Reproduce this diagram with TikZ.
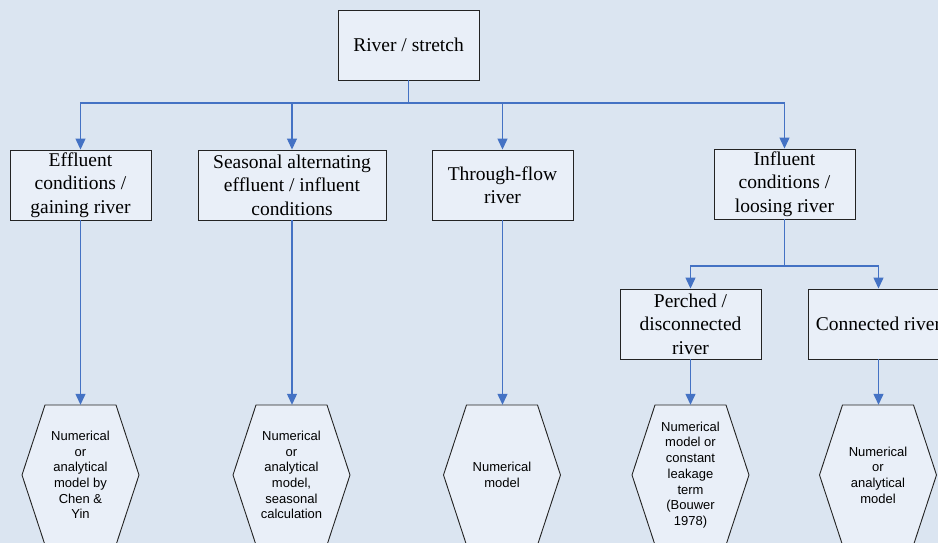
\documentclass[tikz,border=0pt]{standalone}
\usepackage{fontspec}
\setmainfont{Liberation Serif}
\newfontfamily\hexfontfam{Liberation Sans}
\usetikzlibrary{arrows.meta,calc}
\definecolor{bgcol}{RGB}{219,229,241}
\definecolor{boxfill}{RGB}{233,239,248}
\definecolor{linecol}{RGB}{68,114,196}
\definecolor{bordercol}{RGB}{35,35,35}
\newcommand\hexshape[2]{%
  \path[hexline] ({#1-#2+23},405) -- ({#1+#2-23},405) -- ({#1+#2},475) --
    ({#1+#2-23},545) -- ({#1-#2+23},545) -- ({#1-#2},475) -- cycle;}
\begin{document}
\begin{tikzpicture}[x=1pt,y=-1pt,
  boxnode/.style={draw=bordercol, fill=boxfill, line width=0.9pt, minimum width=141pt,
    minimum height=70pt, inner sep=0pt, align=center,
    font=\fontsize{19.5}{23.4}\selectfont},
  hexnode/.style={minimum width=117pt, minimum height=140pt, inner sep=0pt,
    align=center, font=\hexfontfam\fontsize{13}{15.7}\selectfont},
  hexline/.style={draw=bordercol, fill=boxfill, line width=0.9pt},
  conn/.style={draw=linecol, line width=1.2pt},
  arr/.style={conn, -{Triangle[length=11pt,width=10pt]}}]
\useasboundingbox (0,0) rectangle (938,543);
\clip (0,0) rectangle (938,543);
\fill[bgcol] (0,0) rectangle (938,543);

% boxes
\node[boxnode] (top) at (408.5,45) {River / stretch};
\node[boxnode] (b1) at (80.5,185) {Effluent\\conditions /\\gaining river};
\node[boxnode, minimum width=188pt] (b2) at (292,185) {Seasonal alternating\\effluent / influent\\conditions};
\node[boxnode] (b3) at (502.5,185) {Through-flow\\river};
\node[boxnode] (b4) at (784.5,184) {Influent\\conditions /\\loosing river};
\node[boxnode] (b5) at (690.5,324) {Perched /\\disconnected\\river};
\node[boxnode] (b6) at (878.5,324) {Connected river};

% hexagons
\hexshape{80.5}{58.5}
\node[hexnode] (h1) at (80.5,475) {Numerical\\or\\analytical\\model by\\Chen \&\\Yin};
\hexshape{291.5}{58.5}
\node[hexnode] (h2) at (291.5,475) {Numerical\\or\\analytical\\model,\\seasonal\\calculation};
\hexshape{502}{58.5}
\node[hexnode] (h3) at (502,475) {Numerical\\model};
\hexshape{690.5}{58.5}
\node[hexnode] (h4) at (690.5,475) {Numerical\\model or\\constant\\leakage\\term\\(Bouwer\\1978)};
\hexshape{878}{58.5}
\node[hexnode] (h5) at (878,475) {Numerical\\or\\analytical\\model};

% bus connectors
\coordinate (bus) at (408.5,103);
\coordinate (sub) at (784.5,266);
\draw[conn] (top.south) -- (bus);
\draw[arr] (bus) -| (b1.north);
\draw[arr] (bus) -| (b2.north);
\draw[arr] (bus) -| (b3.north);
\draw[arr] (bus) -| (b4.north);
\draw[conn] (b4.south) -- (sub);
\draw[arr] (sub) -| (b5.north);
\draw[arr] (sub) -| (b6.north);

% to hexagons
\draw[arr] (b1.south) -- (b1.south |- h1.north);
\draw[arr] (b2.south) -- (b2.south |- h2.north);
\draw[arr] (b3.south) -- (b3.south |- h3.north);
\draw[arr] (b5.south) -- (b5.south |- h4.north);
\draw[arr] (b6.south) -- (b6.south |- h5.north);
\end{tikzpicture}
\end{document}
